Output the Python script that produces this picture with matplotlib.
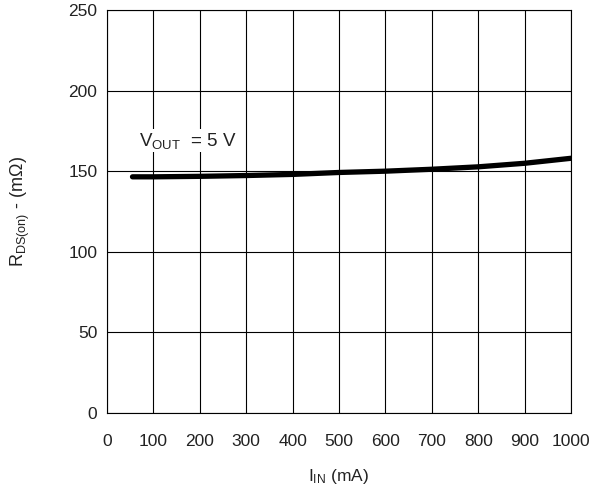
import numpy as np
import matplotlib
matplotlib.use('Agg')
import matplotlib.pyplot as plt

plt.rcParams['font.family'] = ['Liberation Sans', 'DejaVu Sans']
plt.rcParams['mathtext.fontset'] = 'custom'
plt.rcParams['mathtext.rm'] = 'Liberation Sans'
plt.rcParams['mathtext.it'] = 'Liberation Sans:italic'

# data
iIn = [55, 100, 200, 300, 400, 500, 600, 700, 800, 900, 1000]
rdsOn = [146.5, 146.5, 146.8, 147.3, 148.0, 149.2, 150.0, 151.2, 152.7, 154.9, 158.0]
xTicks = [0, 100, 200, 300, 400, 500, 600, 700, 800, 900, 1000]
yTicks = [0, 50, 100, 150, 200, 250]

fontSize = 12.5
fig = plt.figure(figsize=(6.02, 4.87), dpi=100)
ax = fig.add_axes([0.1777, 0.152, 0.7708, 0.8275])

ax.plot(iIn, rdsOn, color='black', linewidth=3.8, solid_capstyle='round', zorder=3)
ax.set_xlim(0, 1000)
ax.set_ylim(0, 250)
ax.set_xticks(xTicks)
ax.set_yticks(yTicks)
ax.grid(True, color='black', linewidth=0.8)
ax.tick_params(axis='both', length=0, labelsize=fontSize, colors='#222222')
ax.tick_params(axis='x', pad=15)
ax.tick_params(axis='y', pad=7)
for s in ax.spines.values():
    s.set_linewidth(0.8)

ax.text(70, 169, r'V$_{\mathrm{OUT}}$  = 5 V', fontsize=13.5, va='center', ha='left',
        color='#222222', bbox=dict(facecolor='white', edgecolor='none', pad=1))

ax.set_xlabel(r'I$_{\mathrm{IN}}$ (mA)', fontsize=fontSize, labelpad=13, color='#222222')
ax.set_ylabel(r'R$_{\mathrm{DS(on)}}$ - (m$\Omega$)', fontsize=13, labelpad=26, color='#222222')

plt.savefig('out.png', dpi=100)
